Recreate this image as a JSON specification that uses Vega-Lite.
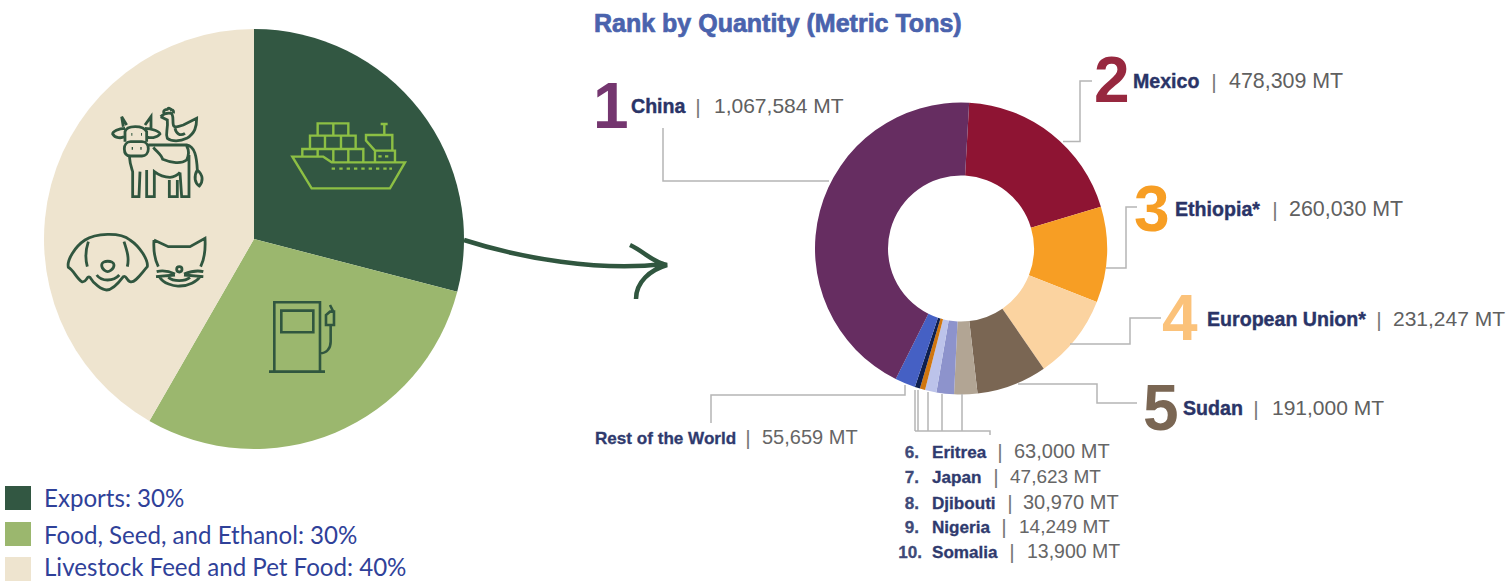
{"$schema":"https://vega.github.io/schema/vega-lite/v6.json","width":1511,"height":582,"autosize":"none","padding":0,"background":"#ffffff",
"config":{"view":{"stroke":null},"style":{
"title1":{"font":"Liberation Sans","fontWeight":"bold","fontSize":25,"color":"#4a63ad","stroke":"#4a63ad","strokeWidth":0.7,"align":"left","baseline":"alphabetic"},
"num":{"font":"Liberation Sans","fontWeight":"bold","fontSize":64,"align":"left","baseline":"alphabetic"},
"nm":{"font":"Liberation Sans","fontWeight":"bold","fontSize":19.6,"color":"#2a3467","stroke":"#2a3467","strokeWidth":0.4,"align":"left","baseline":"alphabetic"},
"nms":{"font":"Liberation Sans","fontWeight":"bold","fontSize":17.1,"color":"#2f3a6e","stroke":"#2f3a6e","strokeWidth":0.3,"align":"left","baseline":"alphabetic"},
"rk":{"font":"Liberation Sans","fontWeight":"bold","fontSize":17.1,"color":"#3f4a78","stroke":"#3f4a78","strokeWidth":0.3,"align":"right","baseline":"alphabetic"},
"val":{"font":"Liberation Sans","fontSize":21.4,"color":"#606060","align":"left","baseline":"alphabetic"},
"vals":{"font":"Liberation Sans","fontSize":20,"color":"#666666","align":"left","baseline":"alphabetic"},
"sep":{"font":"Liberation Sans","fontSize":21,"color":"#777777","align":"center","baseline":"alphabetic"},
"leg":{"font":"Lato","fontSize":24.1,"color":"#2f4199","align":"left","baseline":"alphabetic"}
}},
"resolve":{"scale":{"theta":"independent"}},
"encoding":{
"x":{"type":"quantitative","axis":null,"scale":{"domain":[0,1511],"range":[0,1511]}},
"y":{"type":"quantitative","axis":null,"scale":{"domain":[0,582],"range":[0,582]}}
},
"layer":[
{"data":{"values":[{"use":"Exports","share":29.05},{"use":"Food, Seed, and Ethanol","share":29.25},{"use":"Livestock Feed and Pet Food","share":41.7}]},
"mark":{"type":"arc","outerRadius":210},
"encoding":{"x":{"datum":254},"y":{"datum":239},
"theta":{"field":"share","type":"quantitative","scale":{"range":[0,6.2832]}},
"order":{"field":"sort","type":"quantitative"},
"color":{"field":"use","type":"nominal","legend":null,"sort":null,"scale":{"domain":["Exports","Food, Seed, and Ethanol","Livestock Feed and Pet Food","Mexico","Ethiopia*","European Union*","Sudan","Eritrea","Japan","Djibouti","Nigeria","Somalia","Rest of the World","China"],"range":["#325742","#9bb76e","#eee4cf","#8e1433","#f79e24","#fbd3a0","#7a6653","#b2a594","#8d93cc","#bcc3ea","#d0760f","#0e1f4f","#4560c4","#662d61"]}}}},
{"data":{"values":[{"use":"Mexico","tons":478309,"rank":2},{"use":"Ethiopia*","tons":260030,"rank":3},{"use":"European Union*","tons":231247,"rank":4},{"use":"Sudan","tons":191000,"rank":5},{"use":"Eritrea","tons":63000,"rank":6},{"use":"Japan","tons":47623,"rank":7},{"use":"Djibouti","tons":30970,"rank":8},{"use":"Nigeria","tons":14249,"rank":9},{"use":"Somalia","tons":13900,"rank":10},{"use":"Rest of the World","tons":55659,"rank":11},{"use":"China","tons":1067584,"rank":12}]},
"mark":{"type":"arc","innerRadius":73,"outerRadius":146},
"encoding":{"x":{"datum":961},"y":{"datum":248.5},
"theta":{"field":"tons","type":"quantitative","scale":{"range":[0.056,6.339]}},
"order":{"field":"rank","type":"quantitative"},
"color":{"field":"use","type":"nominal","legend":null}}},
{"data":{"values":[{"use":"Exports","top":486,"bottom":510},{"use":"Food, Seed, and Ethanol","top":522,"bottom":546},{"use":"Livestock Feed and Pet Food","top":557,"bottom":581}]},
"mark":{"type":"rect"},
"encoding":{"x":{"datum":5},"x2":{"datum":31},"y":{"field":"top"},"y2":{"field":"bottom"},"color":{"field":"use","type":"nominal","legend":null}}},

{"data":{"values":[{"t":"Exports: 30%"}]},"mark":{"type":"text","style":"leg"},"encoding":{"x":{"datum":44},"y":{"datum":507},"text":{"field":"t"}}},
{"data":{"values":[{"t":"Food, Seed, and Ethanol: 30%"}]},"mark":{"type":"text","style":"leg"},"encoding":{"x":{"datum":44},"y":{"datum":544},"text":{"field":"t"}}},
{"data":{"values":[{"t":"Livestock Feed and Pet Food: 40%"}]},"mark":{"type":"text","style":"leg"},"encoding":{"x":{"datum":44},"y":{"datum":576},"text":{"field":"t"}}},
{"data":{"values":[{"t":"Rank by Quantity (Metric Tons)"}]},"mark":{"type":"text","style":"title1"},"encoding":{"x":{"datum":594},"y":{"datum":32},"text":{"field":"t"}}},

{"data":{"values":[{"part":"leader lines"}]},"mark":{"type":"point","size":4,"filled":false,"opacity":1,"stroke":"#b5b5b5","strokeWidth":1.5,"shape":"M663 128V181H829M1063 141.5H1080V81H1092M1106 268H1126V207H1137M1070 344H1130V318H1161M1018 384H1097V403H1137M905 385V395H711V423M915 390V431M918 390V431M928 392V431M942 394V431M962 394V431M915 431H990V435"},"encoding":{"x":{"datum":0},"y":{"datum":0}}},
{"data":{"values":[{"part":"arrow"}]},"mark":{"type":"point","size":4,"filled":false,"opacity":1,"stroke":"#30563f","strokeWidth":4.5,"shape":"M464 240C520 258 600 272 664 264M630 245C645 252 652 262 667 265C650 270 636 282 636 299"},"encoding":{"x":{"datum":0},"y":{"datum":0}}},
{"data":{"values":[{"part":"ship icon"}]},"mark":{"type":"point","size":0.4444,"filled":false,"opacity":1,"stroke":"#8dc044","strokeWidth":2.4,"shape":"M757 260L850 260L875 277L1095 277L1050 355L815 355ZM875 296h10M898 296h10M920 296h10M942 296h10M964 296h10M986 296h10M1008 296h10M1030 296h10M1048 296h8M833 197V160H925V197M880 160V197M810 237V197H947V237M855 197V237M903 197V237M787 260V237H970V275M833 237V258M880 237V275M925 237V275M1005 275V242H1065V275M1005 242L978 212V195H1057V242M1033 195V162M1022 162H1043M1015 259h10M1035 259h10"},"encoding":{"x":{"datum":40},"y":{"datum":70}}},
{"data":{"values":[{"part":"pump icon"}]},"mark":{"type":"point","size":0.4444,"filled":false,"opacity":1,"stroke":"#30563f","strokeWidth":2.6,"shape":"M703 905V697H840V905M687 905H855M724 722H820V787H724ZM840 850C860 850 872 835 872 815V768M858 765V735L870 725H882V765ZM870 705L880 725"},"encoding":{"x":{"datum":40},"y":{"datum":70}}},
{"data":{"values":[{"part":"cow and hen icon"}]},"mark":{"type":"point","size":0.4444,"filled":false,"opacity":1,"stroke":"#30563f","strokeWidth":2.8,"shape":"M255 175C235 175 218 185 218 192C225 205 245 205 252 200M315 175C335 175 360 185 360 192C350 205 330 205 320 200M250 170L245 140L260 165M315 165L333 140L333 175M255 215V185C260 165 310 165 320 185V215M272 215H306C318 215 325 225 325 236C325 250 316 258 306 258H272C260 258 253 250 253 236C253 225 260 215 272 215ZM274 193h3M303 193h3M275 235h4M301 235h4M325 225H440C465 230 470 260 472 300M472 300C460 320 465 340 478 348C490 335 490 315 472 300M268 258C270 285 275 295 278 305V380H297L300 305M320 300V380H343V305C360 318 375 322 390 322C400 322 415 315 420 307M388 330V380H412V330M420 308L425 380H447V255M340 232C350 245 365 255 368 268C385 275 420 285 440 270C447 255 447 240 440 228M362 140C370 132 380 128 393 130C402 135 397 150 400 165C402 175 415 170 430 165L470 145C470 170 465 190 440 205C420 215 395 215 382 205C375 190 385 180 382 150L362 140M372 130C368 120 378 118 382 118C385 112 392 115 394 120C400 118 402 125 400 130M405 175C408 190 420 200 435 190"},"encoding":{"x":{"datum":40},"y":{"datum":70}}},
{"data":{"values":[{"part":"dog and cat icon"}]},"mark":{"type":"point","size":0.4444,"filled":false,"opacity":1,"stroke":"#30563f","strokeWidth":2.8,"shape":"M135 510C165 490 240 485 270 510C300 530 325 570 322 590C300 615 285 640 270 635C258 630 260 615 250 620C235 640 215 660 200 660C185 660 160 640 150 622C140 615 140 640 125 635C110 625 100 600 85 592C80 570 105 530 135 510ZM145 515C135 545 135 565 142 590M252 515C262 545 268 565 262 590M185 585C185 570 222 570 222 585C222 600 205 605 203 605C200 605 185 600 185 585ZM170 615C185 635 220 635 238 615M342 510L385 530H450L495 505C497 540 492 570 482 590M342 510C340 540 345 570 355 590M358 620C370 640 400 650 420 648C445 648 470 635 480 620M350 605C370 600 390 605 405 612M348 620L405 615M490 605C470 600 450 605 432 612M490 620L432 615M410 598a8 8 0 1 0 16 0a8 8 0 1 0 -16 0M385 622C400 635 435 635 450 622"},"encoding":{"x":{"datum":40},"y":{"datum":70}}},

{"data":{"values":[{"t":"1"}]},"mark":{"type":"text","style":"num","color":"#74366f"},"encoding":{"x":{"datum":593},"y":{"datum":128},"text":{"field":"t"}}},
{"data":{"values":[{"t":"2"}]},"mark":{"type":"text","style":"num","color":"#97283f"},"encoding":{"x":{"datum":1094},"y":{"datum":102},"text":{"field":"t"}}},
{"data":{"values":[{"t":"3"}]},"mark":{"type":"text","style":"num","color":"#f79e24"},"encoding":{"x":{"datum":1134},"y":{"datum":231},"text":{"field":"t"}}},
{"data":{"values":[{"t":"4"}]},"mark":{"type":"text","style":"num","color":"#fbc27a"},"encoding":{"x":{"datum":1162},"y":{"datum":340},"text":{"field":"t"}}},
{"data":{"values":[{"t":"5"}]},"mark":{"type":"text","style":"num","color":"#7a6653"},"encoding":{"x":{"datum":1143},"y":{"datum":430},"text":{"field":"t"}}},

{"data":{"values":[{"t":"China"}]},"mark":{"type":"text","style":"nm"},"encoding":{"x":{"datum":631},"y":{"datum":113},"text":{"field":"t"}}},
{"data":{"values":[{"t":"|"}]},"mark":{"type":"text","style":"sep"},"encoding":{"x":{"datum":698},"y":{"datum":114},"text":{"field":"t"}}},
{"data":{"values":[{"t":"1,067,584 MT"}]},"mark":{"type":"text","style":"val","fontSize":21},"encoding":{"x":{"datum":714},"y":{"datum":113},"text":{"field":"t"}}},
{"data":{"values":[{"t":"Mexico"}]},"mark":{"type":"text","style":"nm"},"encoding":{"x":{"datum":1133},"y":{"datum":88},"text":{"field":"t"}}},
{"data":{"values":[{"t":"|"}]},"mark":{"type":"text","style":"sep"},"encoding":{"x":{"datum":1214},"y":{"datum":89},"text":{"field":"t"}}},
{"data":{"values":[{"t":"478,309 MT"}]},"mark":{"type":"text","style":"val"},"encoding":{"x":{"datum":1229},"y":{"datum":88},"text":{"field":"t"}}},
{"data":{"values":[{"t":"Ethiopia*"}]},"mark":{"type":"text","style":"nm"},"encoding":{"x":{"datum":1175},"y":{"datum":216},"text":{"field":"t"}}},
{"data":{"values":[{"t":"|"}]},"mark":{"type":"text","style":"sep"},"encoding":{"x":{"datum":1275},"y":{"datum":217},"text":{"field":"t"}}},
{"data":{"values":[{"t":"260,030 MT"}]},"mark":{"type":"text","style":"val"},"encoding":{"x":{"datum":1289},"y":{"datum":216},"text":{"field":"t"}}},
{"data":{"values":[{"t":"European Union*"}]},"mark":{"type":"text","style":"nm"},"encoding":{"x":{"datum":1207},"y":{"datum":326},"text":{"field":"t"}}},
{"data":{"values":[{"t":"|"}]},"mark":{"type":"text","style":"sep"},"encoding":{"x":{"datum":1379},"y":{"datum":327},"text":{"field":"t"}}},
{"data":{"values":[{"t":"231,247 MT"}]},"mark":{"type":"text","style":"val","fontSize":21},"encoding":{"x":{"datum":1393},"y":{"datum":326},"text":{"field":"t"}}},
{"data":{"values":[{"t":"Sudan"}]},"mark":{"type":"text","style":"nm"},"encoding":{"x":{"datum":1183},"y":{"datum":415},"text":{"field":"t"}}},
{"data":{"values":[{"t":"|"}]},"mark":{"type":"text","style":"sep"},"encoding":{"x":{"datum":1256},"y":{"datum":416},"text":{"field":"t"}}},
{"data":{"values":[{"t":"191,000 MT"}]},"mark":{"type":"text","style":"val","fontSize":21},"encoding":{"x":{"datum":1272},"y":{"datum":415},"text":{"field":"t"}}},
{"data":{"values":[{"t":"Rest of the World"}]},"mark":{"type":"text","style":"nms"},"encoding":{"x":{"datum":595},"y":{"datum":444},"text":{"field":"t"}}},
{"data":{"values":[{"t":"|"}]},"mark":{"type":"text","style":"sep"},"encoding":{"x":{"datum":748},"y":{"datum":445},"text":{"field":"t"}}},
{"data":{"values":[{"t":"55,659 MT"}]},"mark":{"type":"text","style":"vals"},"encoding":{"x":{"datum":762},"y":{"datum":444},"text":{"field":"t"}}},

{"data":{"values":[{"t":"6."}]},"mark":{"type":"text","style":"rk"},"encoding":{"x":{"datum":919},"y":{"datum":458},"text":{"field":"t"}}},
{"data":{"values":[{"t":"Eritrea"}]},"mark":{"type":"text","style":"nms"},"encoding":{"x":{"datum":932},"y":{"datum":458},"text":{"field":"t"}}},
{"data":{"values":[{"t":"|"}]},"mark":{"type":"text","style":"sep"},"encoding":{"x":{"datum":1000},"y":{"datum":459},"text":{"field":"t"}}},
{"data":{"values":[{"t":"63,000 MT"}]},"mark":{"type":"text","style":"vals"},"encoding":{"x":{"datum":1014},"y":{"datum":458},"text":{"field":"t"}}},
{"data":{"values":[{"t":"7."}]},"mark":{"type":"text","style":"rk"},"encoding":{"x":{"datum":919},"y":{"datum":483},"text":{"field":"t"}}},
{"data":{"values":[{"t":"Japan"}]},"mark":{"type":"text","style":"nms"},"encoding":{"x":{"datum":932},"y":{"datum":483},"text":{"field":"t"}}},
{"data":{"values":[{"t":"|"}]},"mark":{"type":"text","style":"sep"},"encoding":{"x":{"datum":996},"y":{"datum":484},"text":{"field":"t"}}},
{"data":{"values":[{"t":"47,623 MT"}]},"mark":{"type":"text","style":"vals","fontSize":19},"encoding":{"x":{"datum":1010},"y":{"datum":483},"text":{"field":"t"}}},
{"data":{"values":[{"t":"8."}]},"mark":{"type":"text","style":"rk"},"encoding":{"x":{"datum":919},"y":{"datum":509},"text":{"field":"t"}}},
{"data":{"values":[{"t":"Djibouti"}]},"mark":{"type":"text","style":"nms"},"encoding":{"x":{"datum":932},"y":{"datum":509},"text":{"field":"t"}}},
{"data":{"values":[{"t":"|"}]},"mark":{"type":"text","style":"sep"},"encoding":{"x":{"datum":1010},"y":{"datum":510},"text":{"field":"t"}}},
{"data":{"values":[{"t":"30,970 MT"}]},"mark":{"type":"text","style":"vals"},"encoding":{"x":{"datum":1023},"y":{"datum":509},"text":{"field":"t"}}},
{"data":{"values":[{"t":"9."}]},"mark":{"type":"text","style":"rk"},"encoding":{"x":{"datum":919},"y":{"datum":533},"text":{"field":"t"}}},
{"data":{"values":[{"t":"Nigeria"}]},"mark":{"type":"text","style":"nms"},"encoding":{"x":{"datum":932},"y":{"datum":533},"text":{"field":"t"}}},
{"data":{"values":[{"t":"|"}]},"mark":{"type":"text","style":"sep"},"encoding":{"x":{"datum":1004},"y":{"datum":534},"text":{"field":"t"}}},
{"data":{"values":[{"t":"14,249 MT"}]},"mark":{"type":"text","style":"vals","fontSize":19},"encoding":{"x":{"datum":1019},"y":{"datum":533},"text":{"field":"t"}}},
{"data":{"values":[{"t":"10."}]},"mark":{"type":"text","style":"rk"},"encoding":{"x":{"datum":922},"y":{"datum":558},"text":{"field":"t"}}},
{"data":{"values":[{"t":"Somalia"}]},"mark":{"type":"text","style":"nms"},"encoding":{"x":{"datum":932},"y":{"datum":558},"text":{"field":"t"}}},
{"data":{"values":[{"t":"|"}]},"mark":{"type":"text","style":"sep"},"encoding":{"x":{"datum":1012},"y":{"datum":559},"text":{"field":"t"}}},
{"data":{"values":[{"t":"13,900 MT"}]},"mark":{"type":"text","style":"vals","fontSize":19.5},"encoding":{"x":{"datum":1027},"y":{"datum":558},"text":{"field":"t"}}}
]}
